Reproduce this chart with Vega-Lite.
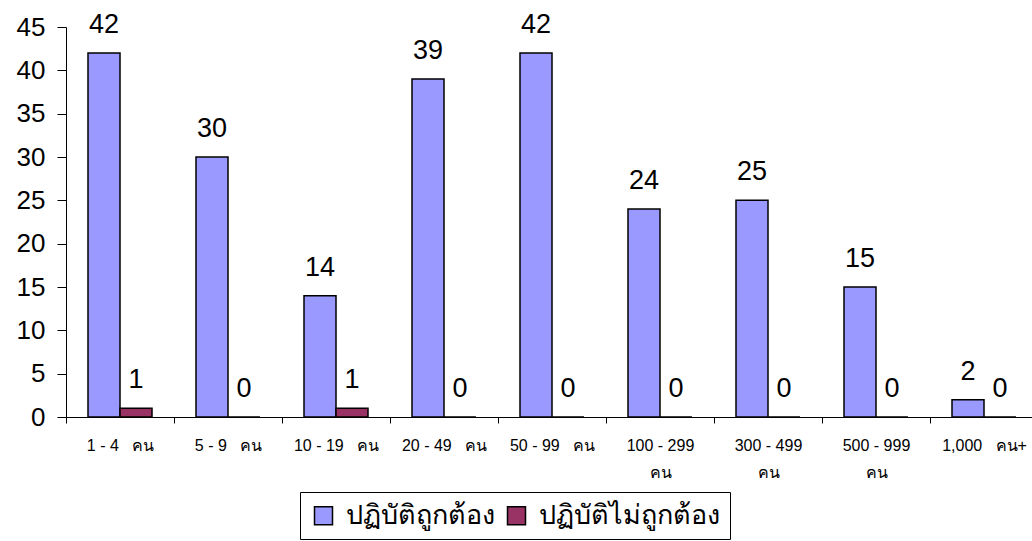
{
  "$schema": "https://vega.github.io/schema/vega-lite/v6.json",
  "autosize": "none",
  "padding": {"left": 66, "top": 27, "right": 0, "bottom": 124},
  "width": 972,
  "height": 390,
  "background": "white",
  "config": {
    "view": {"stroke": null},
    "font": "Liberation Sans"
  },
  "data": {
    "values": [
      {"group": "1 - 4  คน", "series": "ปฏิบัติถูกต้อง", "value": 42},
      {"group": "1 - 4  คน", "series": "ปฏิบัติไม่ถูกต้อง", "value": 1},
      {"group": "5 - 9  คน", "series": "ปฏิบัติถูกต้อง", "value": 30},
      {"group": "5 - 9  คน", "series": "ปฏิบัติไม่ถูกต้อง", "value": 0},
      {"group": "10 - 19  คน", "series": "ปฏิบัติถูกต้อง", "value": 14},
      {"group": "10 - 19  คน", "series": "ปฏิบัติไม่ถูกต้อง", "value": 1},
      {"group": "20 - 49  คน", "series": "ปฏิบัติถูกต้อง", "value": 39},
      {"group": "20 - 49  คน", "series": "ปฏิบัติไม่ถูกต้อง", "value": 0},
      {"group": "50 - 99  คน", "series": "ปฏิบัติถูกต้อง", "value": 42},
      {"group": "50 - 99  คน", "series": "ปฏิบัติไม่ถูกต้อง", "value": 0},
      {"group": "100 - 299 คน", "series": "ปฏิบัติถูกต้อง", "value": 24},
      {"group": "100 - 299 คน", "series": "ปฏิบัติไม่ถูกต้อง", "value": 0},
      {"group": "300 - 499 คน", "series": "ปฏิบัติถูกต้อง", "value": 25},
      {"group": "300 - 499 คน", "series": "ปฏิบัติไม่ถูกต้อง", "value": 0},
      {"group": "500 - 999 คน", "series": "ปฏิบัติถูกต้อง", "value": 15},
      {"group": "500 - 999 คน", "series": "ปฏิบัติไม่ถูกต้อง", "value": 0},
      {"group": "1,000  คน+", "series": "ปฏิบัติถูกต้อง", "value": 2},
      {"group": "1,000  คน+", "series": "ปฏิบัติไม่ถูกต้อง", "value": 0}
    ]
  },
  "encoding": {
    "x": {
      "field": "group",
      "type": "nominal",
      "sort": null,
      "scale": {"paddingInner": 0, "paddingOuter": 0},
      "axis": {
        "title": null,
        "labelAngle": 0,
        "labelFontSize": 16,
        "labelFontWeight": "normal",
        "labelColor": "black",
        "labelPadding": 14,
        "labelLineHeight": 27,
        "labelExpr": "indexof(['100 - 299 คน','300 - 499 คน','500 - 999 คน'], datum.label) >= 0 ? [replace(datum.label, ' คน', ''), 'คน'] : replace(datum.label, '  ', ' \u00a0 ')",
        "tickBand": "extent",
        "tickSize": 6,
        "tickColor": "black",
        "domainColor": "black",
        "grid": false
      }
    },
    "xOffset": {
      "field": "series",
      "type": "nominal",
      "sort": ["ปฏิบัติถูกต้อง", "ปฏิบัติไม่ถูกต้อง"],
      "scale": {"paddingInner": 0, "paddingOuter": 0.6875}
    },
    "y": {
      "field": "value",
      "type": "quantitative",
      "scale": {"domain": [0, 45], "nice": false},
      "axis": {
        "title": null,
        "values": [0, 5, 10, 15, 20, 25, 30, 35, 40, 45],
        "labelFontSize": 26,
        "labelColor": "black",
        "labelPadding": 12,
        "tickSize": 9,
        "tickColor": "black",
        "domainColor": "black",
        "grid": false
      }
    }
  },
  "layer": [
    {
      "mark": {"type": "bar", "stroke": "black", "strokeWidth": 1.5},
      "encoding": {
        "color": {
          "field": "series",
          "type": "nominal",
          "scale": {"domain": ["ปฏิบัติถูกต้อง", "ปฏิบัติไม่ถูกต้อง"], "range": ["#9999FF", "#993366"]},
          "legend": {
            "title": null,
            "orient": "none",
            "direction": "horizontal",
            "legendX": 234,
            "legendY": 465,
            "symbolType": "square",
            "symbolSize": 324,
            "symbolStrokeColor": "black",
            "symbolStrokeWidth": 1.5,
            "symbolOpacity": 1,
            "labelFontSize": 27,
            "labelColor": "black",
            "labelLimit": 400,
            "columnPadding": 8,
            "labelOffset": 9,
            "strokeColor": "black",
            "padding": 10
          }
        }
      }
    },
    {
      "mark": {"type": "text", "baseline": "alphabetic", "dy": -20, "fontSize": 27, "color": "black"},
      "encoding": {
        "text": {"field": "value", "type": "quantitative"}
      }
    }
  ]
}
